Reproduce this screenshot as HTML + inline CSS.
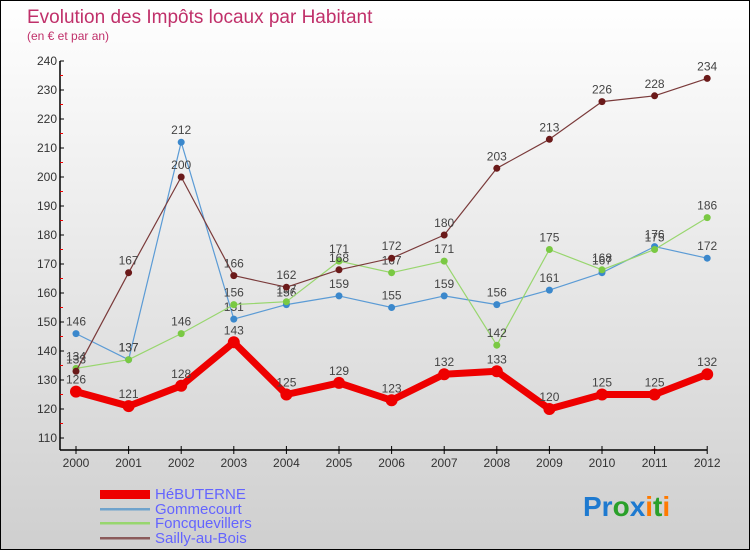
<!DOCTYPE html>
<html><head><meta charset="utf-8">
<style>
html,body{margin:0;padding:0}
body{width:750px;height:550px;overflow:hidden;font-family:"Liberation Sans",sans-serif}
#wrap{position:relative;width:748px;height:548px;border:1px solid #000;background:linear-gradient(#ffffff 0%,#ececec 40%,#cfcfcf 100%)}
</style></head><body>
<div id="wrap">
<svg id="chart" width="748" height="548" style="position:absolute;left:0;top:0">
<text x="26" y="22" font-size="19" fill="#c0306a">Evolution des Impôts locaux par Habitant</text>
<text x="26" y="39" font-size="12" fill="#c0306a">(en € et par an)</text>
<g id="axes"></g><g id="series"></g>
<g>
<rect x="99" y="489" width="50" height="9" fill="#e00"/>
<text x="154" y="498" font-size="15" fill="#6464ff">HéBUTERNE</text>
<rect x="99" y="507" width="50" height="2.5" fill="#6fa3cc"/>
<text x="154" y="513" font-size="15" fill="#6464ff">Gommecourt</text>
<rect x="99" y="521" width="50" height="2.5" fill="#98d66e"/>
<text x="154" y="527" font-size="15" fill="#6464ff">Foncquevillers</text>
<rect x="99" y="536" width="50" height="2.5" fill="#8b5a5a"/>
<text x="154" y="542" font-size="15" fill="#6464ff">Sailly-au-Bois</text>
</g>
<g font-size="28" font-weight="bold">
<text x="582" y="515"><tspan fill="#1e7ad0">Pr</tspan><tspan fill="#2aa02a">o</tspan><tspan fill="#1e7ad0">x</tspan><tspan fill="#ff7a00">i</tspan><tspan fill="#2aa02a">t</tspan><tspan fill="#ff7a00">i</tspan></text>
</g>
</svg>
</div>
<script>
const years=["2000","2001","2002","2003","2004","2005","2006","2007","2008","2009","2010","2011","2012"];
const yTicks=[110,120,130,140,150,160,170,180,190,200,210,220,230,240];
const hebuterne=[126,121,128,143,125,129,123,132,133,120,125,125,132];
const gommecourt=[146,137,212,151,156,159,155,159,156,161,167,176,172];
const foncquevillers=[134,137,146,156,157,171,167,171,142,175,168,175,186];
const sailly=[133,167,200,166,162,168,172,180,203,213,226,228,234];
const NS="http://www.w3.org/2000/svg";
function X(i){return 75+i*52.6;}
function Y(v){return 60+(240-v)*2.9;}
function mk(t,a,p){const e=document.createElementNS(NS,t);for(const k in a)e.setAttribute(k,a[k]);p.appendChild(e);return e;}
const ax=document.getElementById('axes');
let yl=mk('line',{x1:59,y1:Y(240),x2:59,y2:449,stroke:'#000','stroke-width':1.5},ax);

let xl=mk('line',{x1:59,y1:449,x2:X(12),y2:449,stroke:'#000','stroke-width':1.5},ax);

yTicks.forEach(v=>{
  mk('line',{x1:59,y1:Y(v),x2:63,y2:Y(v),stroke:'#000'},ax);
  if(v<240)mk('line',{x1:59,y1:Y(v+5),x2:62,y2:Y(v+5),stroke:'#e00'},ax);
  const t=mk('text',{x:56,y:Y(v)+4,'font-size':12,fill:'#333','text-anchor':'end'},ax);t.textContent=v;
  
});
years.forEach((y,i)=>{
  mk('line',{x1:X(i),y1:445,x2:X(i),y2:453,stroke:'#000'},ax);
  const t=mk('text',{x:X(i),y:466,'font-size':12,fill:'#333','text-anchor':'middle'},ax);t.textContent=y;
  
});
const sg=document.getElementById('series');
function draw(data,name,col,dot,w,r){
  const g=mk('g',{},sg);
  
  const p=mk('polyline',{points:data.map((v,i)=>X(i)+','+Y(v)).join(' '),fill:'none',stroke:col,'stroke-width':w,'stroke-linejoin':'round'},g);
  
  data.forEach((v,i)=>{
    const c=mk('circle',{cx:X(i),cy:Y(v),r:r,fill:dot},g);
    
    const t=mk('text',{x:X(i),y:Y(v)-8,'font-size':12,fill:'#444','text-anchor':'middle'},g);t.textContent=v;
    
  });
}
draw(gommecourt,'gommecourt','#5b9bd5','#3b88cc',1.2,3.5);
draw(foncquevillers,'foncquevillers','#98d66e','#7ac943',1.2,3.5);
draw(sailly,'sailly','#7a3a3a','#6b1a1a',1.2,3.5);
draw(hebuterne,'hebuterne','#ee0000','#ee0000',7,6);
</script>
</body></html>
